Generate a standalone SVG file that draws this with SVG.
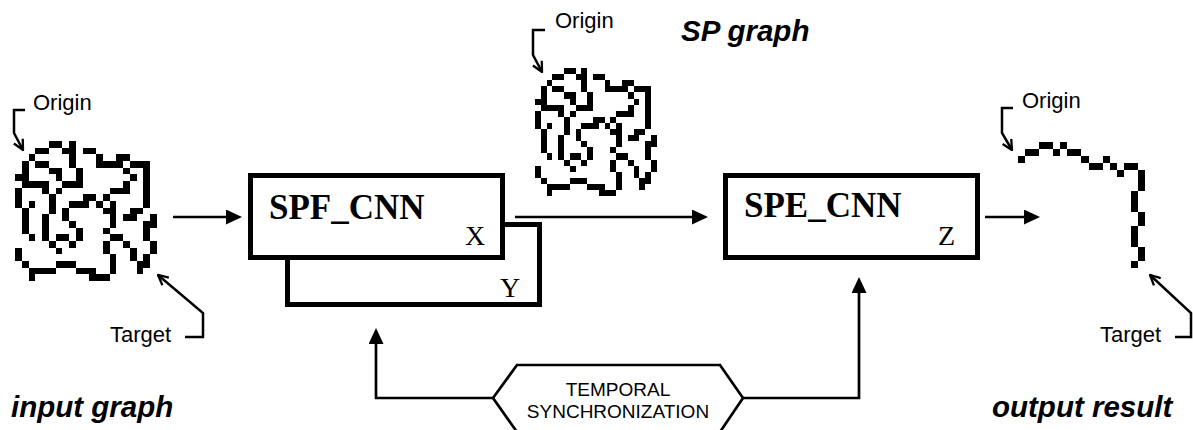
<svg xmlns="http://www.w3.org/2000/svg" xmlns:xlink="http://www.w3.org/1999/xlink" width="1193" height="430" viewBox="0 0 1193 430">
<style>
.lbl{font-family:"Liberation Sans",Arial,sans-serif;font-size:22px;fill:#000}
.ttl{font-family:"Liberation Sans",Arial,sans-serif;font-size:29.5px;font-weight:bold;font-style:italic;fill:#000}
.box{fill:#fff;stroke:#000;stroke-width:5}
.bname{font-family:"Liberation Serif","Times New Roman",serif;font-size:35px;font-weight:bold;fill:#000}
.bvar{font-family:"Liberation Serif","Times New Roman",serif;font-size:28px;fill:#000}
.conn{fill:none;stroke:#000;stroke-width:2.7}
.ptr{fill:none;stroke:#000;stroke-width:2.5}
.pix{fill:#000;shape-rendering:crispEdges}
.sync{font-family:"Liberation Sans",Arial,sans-serif;font-size:19px;fill:#000}
</style>
<defs>
<marker id="ah" viewBox="0 0 16 15" refX="6" refY="7.5" markerWidth="16" markerHeight="15" markerUnits="userSpaceOnUse" orient="auto">
<path d="M0,0 L16,7.5 L0,15 z" fill="#000"/>
</marker>
<marker id="oh" viewBox="0 0 12 12" refX="11" refY="6" markerWidth="12" markerHeight="12" markerUnits="userSpaceOnUse" orient="auto">
<path d="M1,1 L11,6 L1,11" fill="none" stroke="#000" stroke-width="2.3"/>
</marker>
<path id="maze" class="pix" d="M5,0h2v1h-2z M8,0h1v1h-1z M3,1h2v1h-2z M7,1h2v1h-2z M10,1h2v1h-2z M2,2h1v1h-1z M8,2h1v1h-1z M12,2h1v1h-1z M15,2h2v1h-2z M1,3h1v1h-1z M3,3h2v1h-2z M8,3h1v1h-1z M12,3h4v1h-4z M17,3h3v1h-3z M1,4h1v1h-1z M5,4h2v1h-2z M9,4h1v1h-1z M16,4h1v1h-1z M19,4h1v1h-1z M0,5h2v1h-2z M6,5h1v1h-1z M9,5h1v1h-1z M17,5h1v1h-1z M19,5h1v1h-1z M1,6h4v1h-4z M7,6h3v1h-3z M16,6h1v1h-1z M19,6h1v1h-1z M0,7h1v1h-1z M4,7h1v1h-1z M6,7h1v1h-1z M14,7h3v1h-3z M19,7h1v1h-1z M0,8h1v1h-1z M5,8h1v1h-1z M10,8h2v1h-2z M13,8h1v1h-1z M19,8h1v1h-1z M0,9h1v1h-1z M2,9h1v1h-1z M5,9h1v1h-1z M8,9h3v1h-3z M12,9h1v1h-1z M14,9h1v1h-1z M19,9h1v1h-1z M1,10h1v1h-1z M5,10h1v1h-1z M7,10h1v1h-1z M13,10h2v1h-2z M17,10h2v1h-2z M1,11h1v1h-1z M4,11h1v1h-1z M7,11h1v1h-1z M14,11h1v1h-1z M16,11h2v1h-2z M20,11h1v1h-1z M1,12h1v1h-1z M4,12h1v1h-1z M8,12h1v1h-1z M14,12h1v1h-1z M19,12h2v1h-2z M1,13h1v1h-1z M4,13h1v1h-1z M9,13h1v1h-1z M13,13h1v1h-1z M19,13h1v1h-1z M2,14h1v1h-1z M4,14h1v1h-1z M6,14h2v1h-2z M9,14h1v1h-1z M14,14h2v1h-2z M19,14h1v1h-1z M5,15h1v1h-1z M8,15h1v1h-1z M13,15h1v1h-1z M16,15h1v1h-1z M20,15h1v1h-1z M0,16h1v1h-1z M6,16h1v1h-1z M13,16h1v1h-1z M17,16h1v1h-1z M20,16h1v1h-1z M0,17h1v1h-1z M14,17h1v1h-1z M17,17h1v1h-1z M19,17h1v1h-1z M1,18h1v1h-1z M6,18h3v1h-3z M14,18h1v1h-1z M18,18h2v1h-2z M2,19h4v1h-4z M9,19h3v1h-3z M14,19h1v1h-1z M18,19h1v1h-1z M2,20h1v1h-1z M11,20h3v1h-3z"/>
</defs>
<rect width="1193" height="430" fill="#fff"/>

<g id="input-graph">
<use xlink:href="#maze" href="#maze" transform="translate(15,141) scale(6.75,6.67)"/>
<text class="lbl" x="33" y="110">Origin</text>
<path class="ptr" d="M25,110 H14 V133 L23,150" marker-end="url(#oh)"/>
<text class="lbl" x="110" y="342">Target</text>
<path class="ptr" d="M185,337 H203 V313 L158,275" marker-end="url(#oh)"/>
<text class="ttl" x="11" y="417">input graph</text>
</g>

<g id="sp-graph">
<use xlink:href="#maze" href="#maze" transform="translate(535,68) scale(5.8,6.1)"/>
<text class="lbl" x="555" y="28">Origin</text>
<path class="ptr" d="M545,30 H533 V55 L542,72" marker-end="url(#oh)"/>
<text class="ttl" x="681" y="41">SP graph</text>
</g>

<g id="output-result">
<path class="pix" transform="translate(1018,142) scale(7.05,7)" d="M3,0h2v1h-2z M6,0h1v1h-1z M1,1h2v1h-2z M5,1h1v1h-1z M7,1h2v1h-2z M0,2h1v1h-1z M9,2h1v1h-1z M12,2h1v1h-1z M10,3h2v1h-2z M13,3h1v1h-1z M15,3h2v1h-2z M14,4h1v1h-1z M17,4h1v3h-1z M16,7h1v3h-1z M17,10h1v2h-1z M16,12h1v3h-1z M17,15h1v2h-1z M16,17h1v1h-1z"/>
<text class="lbl" x="1022" y="108">Origin</text>
<path class="ptr" d="M1013,108 H1002 V133 L1012,150" marker-end="url(#oh)"/>
<text class="lbl" x="1100" y="342">Target</text>
<path class="ptr" d="M1175,337 H1191 V313 L1150,275" marker-end="url(#oh)"/>
<text class="ttl" x="992" y="417">output result</text>
</g>

<g id="spf-cnn">
<rect class="box" x="287.5" y="224.5" width="252" height="80"/>
<text class="bvar" x="500" y="297">Y</text>
<rect class="box" x="250.5" y="175.5" width="252" height="82"/>
<text class="bname" x="269" y="219">SPF_CNN</text>
<text class="bvar" x="465" y="245">X</text>
</g>

<g id="spe-cnn">
<rect class="box" x="725.5" y="175.5" width="252" height="82"/>
<text class="bname" x="744" y="217">SPE_CNN</text>
<text class="bvar" x="938" y="245">Z</text>
</g>

<g id="temporal-sync">
<polygon points="493,398 517,365 720,365 743,398 720,432 517,432" fill="#fff" stroke="#000" stroke-width="2.7"/>
<text class="sync" x="618" y="396" text-anchor="middle">TEMPORAL</text>
<text class="sync" x="618" y="418" text-anchor="middle">SYNCHRONIZATION</text>
</g>

<g id="connectors">
<path class="conn" d="M173,217 H232" marker-end="url(#ah)"/>
<path class="conn" d="M515,217 H698" marker-end="url(#ah)"/>
<path class="conn" d="M985,217 H1030" marker-end="url(#ah)"/>
<path class="conn" d="M493,398 H376 V338" marker-end="url(#ah)"/>
<path class="conn" d="M743,398 H859 V287" marker-end="url(#ah)"/>
</g>
</svg>
